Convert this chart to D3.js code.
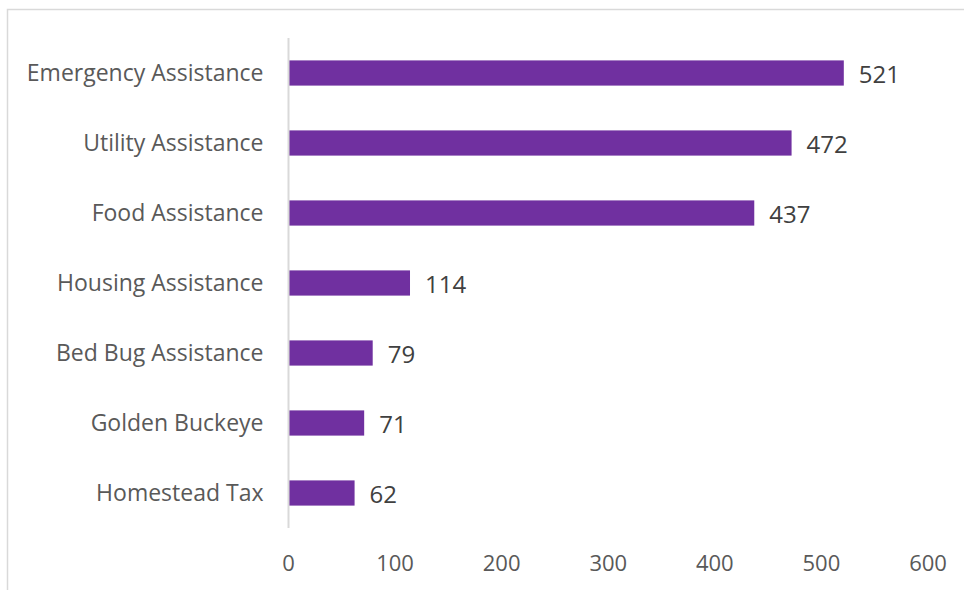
<!DOCTYPE html>
<html>
<head>
<meta charset="utf-8">
<script src="https://cdn.jsdelivr.net/npm/d3@7"></script>
<style>
  html, body { margin: 0; padding: 0; background: #fff; }
  svg { display: block; }
</style>
</head>
<body>
<div id="chart"></div>
<script>
// data
let categories = ["Emergency Assistance", "Utility Assistance", "Food Assistance",
  "Housing Assistance", "Bed Bug Assistance", "Golden Buckeye", "Homestead Tax"];
let counts = [521, 472, 437, 114, 79, 71, 62];
let xTicks = [0, 100, 200, 300, 400, 500, 600];

let width = 964, height = 590;
let margin = ({ top: 38, right: 36, bottom: 62, left: 288.5 });

let svg = d3.select("#chart")
  .append("svg")
  .attr("width", width)
  .attr("height", height)
  .attr("font-family", "'Open Sans', 'Liberation Sans', sans-serif");

// chart frame
svg.append("rect")
  .attr("x", 7.5).attr("y", 9.5)
  .attr("width", 1000).attr("height", 1000)
  .attr("fill", "none")
  .attr("stroke", "#d9d9d9")
  .attr("stroke-width", 1.5);

let x = d3.scaleLinear()
  .domain([0, 600])
  .range([margin.left, width - margin.right]);

let y = d3.scaleBand()
  .domain(categories)
  .range([margin.top, height - margin.bottom])
  .paddingInner(0.64)
  .paddingOuter(0.32);

let data = categories.map((c, i) => ({ name: c, value: counts[i] }));

// bars
svg.append("g")
  .selectAll("rect")
  .data(data)
  .join("rect")
  .attr("x", x(0))
  .attr("y", d => y(d.name))
  .attr("width", d => x(d.value) - x(0))
  .attr("height", y.bandwidth())
  .attr("fill", "#7030a0");

// category axis line
svg.append("line")
  .attr("x1", x(0)).attr("x2", x(0))
  .attr("y1", margin.top).attr("y2", height - margin.bottom)
  .attr("stroke", "#d9d9d9")
  .attr("stroke-width", 2);

// category labels
svg.append("g")
  .attr("text-anchor", "end")
  .attr("font-size", 23)
  .attr("fill", "#595959")
  .selectAll("text")
  .data(categories)
  .join("text")
  .attr("x", x(0) - 25)
  .attr("y", d => y(d) + y.bandwidth() / 2)
  .attr("dy", "0.35em")
  .text(d => d);

// value labels
svg.append("g")
  .attr("font-size", 24)
  .attr("fill", "#404040")
  .selectAll("text")
  .data(data)
  .join("text")
  .attr("x", d => x(d.value) + 15)
  .attr("y", d => y(d.name) + y.bandwidth() / 2 + 2)
  .attr("dy", "0.35em")
  .text(d => d.value);

// x tick labels
svg.append("g")
  .attr("text-anchor", "middle")
  .attr("font-size", 22)
  .attr("fill", "#595959")
  .selectAll("text")
  .data(xTicks)
  .join("text")
  .attr("x", d => x(d))
  .attr("y", 563)
  .attr("dy", "0.35em")
  .text(d => d);
</script>
</body>
</html>
